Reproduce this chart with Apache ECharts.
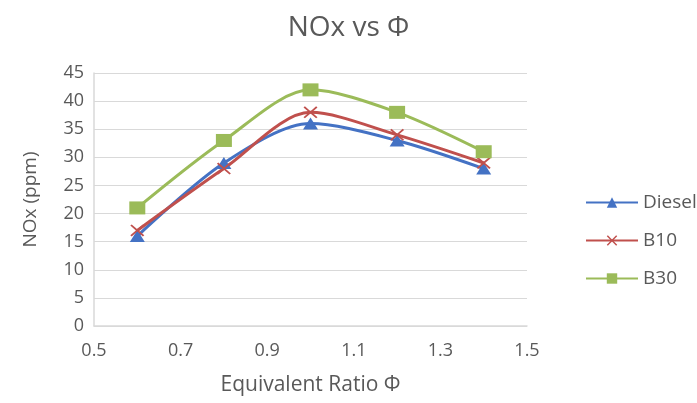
<!DOCTYPE html>
<html>
<head>
<meta charset="utf-8">
<script src="https://cdn.jsdelivr.net/npm/echarts@6/dist/echarts.min.js"></script>
<style>
  html, body { margin: 0; padding: 0; background: #fff; }
  #chart { width: 697px; height: 403px; }
</style>
</head>
<body>
<div id="chart"></div>
<script>
// Equivalence ratio sample points
var phi = [0.6, 0.8, 1.0, 1.2, 1.4];
// NOx emissions (ppm) per fuel
var diesel = [16, 29, 36, 33, 28];
var b10 = [17, 28, 38, 34, 29];
var b30 = [21, 33, 42, 38, 31];
var seriesNames = ['Diesel', 'B10', 'B30'];

var textColor = '#595959';
var fontFamily = '"Open Sans", "Noto Sans", sans-serif';
var crossPath = 'path://M0,1 L1,0 L5,4 L9,0 L10,1 L6,5 L10,9 L9,10 L5,6 L1,10 L0,9 L4,5 Z';

function pairs(ys) {
  return phi.map(function (x, i) { return [x, ys[i]]; });
}

function makeSeries(name, ys, color, symbol, size) {
  return {
    name: name,
    type: 'line',
    data: pairs(ys),
    smooth: 0.3,
    symbol: symbol,
    symbolSize: size,
    showAllSymbol: true,
    lineStyle: { color: color, width: 3 },
    itemStyle: { color: color },
    emphasis: { disabled: true }
  };
}

var chart = echarts.init(document.getElementById('chart'), null, { renderer: 'canvas' });
chart.setOption({
  animation: false,
  title: {
    text: 'NOx vs Φ',
    left: 'center',
    top: 9,
    textStyle: { color: textColor, fontSize: 28, fontWeight: 'normal', fontFamily: fontFamily }
  },
  legend: {
    data: seriesNames,
    orient: 'vertical',
    left: 580,
    top: 188,
    itemGap: 19,
    itemWidth: 52,
    itemHeight: 13,
    textStyle: { color: textColor, fontSize: 19, fontFamily: fontFamily }
  },
  grid: { left: 94, right: 170, top: 73, bottom: 77 },
  xAxis: {
    type: 'value',
    min: 0.5,
    max: 1.5,
    interval: 0.2,
    name: 'Equivalent Ratio Φ',
    nameLocation: 'middle',
    nameGap: 49,
    nameTextStyle: { color: textColor, fontSize: 21, fontFamily: fontFamily },
    axisLine: { lineStyle: { color: '#d9d9d9', width: 1.5 } },
    axisTick: { show: false },
    splitLine: { show: false },
    axisLabel: {
      color: textColor, fontSize: 18, fontFamily: fontFamily, margin: 16,
      formatter: function (v) { return v.toFixed(1); }
    }
  },
  yAxis: {
    type: 'value',
    min: 0,
    max: 45,
    interval: 5,
    name: 'NOx (ppm)',
    nameLocation: 'middle',
    nameGap: 54,
    nameTextStyle: { color: textColor, fontSize: 19, fontFamily: fontFamily },
    axisLine: { show: true, lineStyle: { color: '#d9d9d9', width: 1.5 } },
    axisTick: { show: false },
    splitLine: { lineStyle: { color: '#d9d9d9', width: 1 } },
    axisLabel: { color: textColor, fontSize: 18, fontFamily: fontFamily, margin: 10 }
  },
  series: [
    makeSeries('Diesel', diesel, '#4472C4', 'triangle', [15, 12]),
    makeSeries('B10', b10, '#C0504D', crossPath, [14, 12]),
    makeSeries('B30', b30, '#9BBB59', 'rect', [16, 13])
  ]
});
</script>
</body>
</html>
